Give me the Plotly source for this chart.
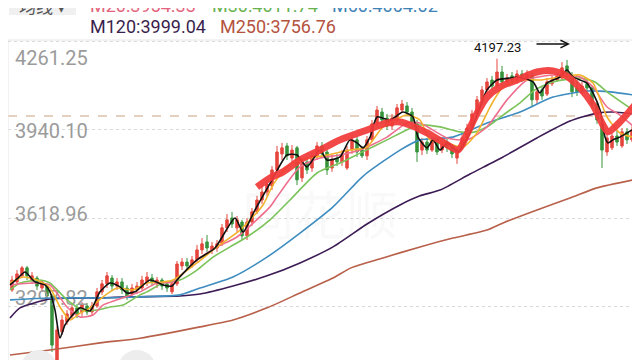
import plotly.graph_objects as go

# ---------------- data ----------------
bar_index = list(range(125))
open_ = [3359, 3388, 3410, 3439, 3395, 3402, 3366, 3373, 3337, 3098,
         3207, 3243, 3265, 3294, 3279, 3301, 3279, 3301, 3352, 3381,
         3402, 3373, 3388, 3366, 3344, 3359, 3366, 3388, 3402, 3381,
         3395, 3381, 3352, 3381, 3446, 3460, 3446, 3468, 3504, 3533,
         3504, 3511, 3526, 3584, 3620, 3584, 3605, 3555, 3605, 3642,
         3685, 3714, 3736, 3794, 3852, 3881, 3837, 3874, 3765, 3823,
         3801, 3845, 3881, 3859, 3801, 3837, 3823, 3801, 3866, 3903,
         3866, 3845, 3903, 3961, 4004, 3982, 3953, 3975, 4011, 4026,
         4004, 3961, 3866, 3895, 3866, 3903, 3866, 3895, 3874, 3837,
         3874, 3910, 3946, 3997, 4048, 4084, 4120, 4098, 4149, 4113,
         4135, 4120, 4142, 4127, 4135, 4048, 4084, 4069, 4106, 4120,
         4127, 4171, 4135, 4091, 4077, 4106, 4091, 4033, 3961, 3859,
         3874, 3917, 3881, 3932, 3903]
close = [3395, 3417, 3439, 3410, 3410, 3373, 3388, 3337, 3159, 3214,
         3250, 3272, 3294, 3272, 3304, 3279, 3301, 3352, 3381, 3410,
         3373, 3388, 3359, 3337, 3366, 3373, 3395, 3406, 3388, 3395,
         3373, 3366, 3381, 3453, 3460, 3446, 3468, 3504, 3526, 3511,
         3518, 3526, 3584, 3613, 3598, 3613, 3555, 3605, 3642, 3685,
         3714, 3743, 3794, 3859, 3874, 3845, 3866, 3758, 3816, 3794,
         3845, 3881, 3852, 3794, 3830, 3823, 3852, 3866, 3903, 3859,
         3845, 3903, 3961, 4011, 3975, 3953, 3982, 4019, 4033, 4004,
         3968, 3859, 3895, 3866, 3903, 3859, 3888, 3874, 3852, 3866,
         3910, 3946, 3997, 4048, 4084, 4113, 4098, 4149, 4113, 4127,
         4120, 4142, 4127, 4142, 4048, 4077, 4062, 4113, 4120, 4135,
         4164, 4142, 4077, 4077, 4098, 4091, 4033, 3975, 3866, 3910,
         3917, 3895, 3932, 3903, 3939]
high = [3410, 3431, 3446, 3446, 3424, 3410, 3395, 3381, 3344, 3228,
        3268, 3286, 3304, 3308, 3315, 3312, 3315, 3366, 3395, 3424,
        3413, 3402, 3402, 3377, 3381, 3388, 3410, 3424, 3417, 3406,
        3402, 3391, 3395, 3464, 3475, 3475, 3482, 3522, 3547, 3558,
        3533, 3540, 3598, 3634, 3642, 3627, 3613, 3620, 3656, 3700,
        3736, 3758, 3808, 3881, 3892, 3892, 3884, 3881, 3830, 3837,
        3859, 3895, 3895, 3866, 3848, 3852, 3866, 3881, 3924, 3917,
        3881, 3917, 3975, 4026, 4019, 3997, 3997, 4033, 4048, 4040,
        4019, 3975, 3910, 3910, 3917, 3913, 3903, 3910, 3888, 3881,
        3924, 3961, 4011, 4062, 4098, 4127, 4135, 4197.23, 4171, 4142,
        4149, 4156, 4156, 4156, 4149, 4091, 4098, 4127, 4135, 4149,
        4185, 4193, 4149, 4120, 4113, 4120, 4098, 4040, 3975, 3924,
        3932, 3939, 3946, 3946, 3953]
low = [3352, 3381, 3402, 3395, 3381, 3359, 3352, 3323, 3134, 3062,
       3196, 3232, 3250, 3257, 3265, 3268, 3268, 3294, 3341, 3366,
       3359, 3359, 3344, 3323, 3330, 3344, 3359, 3373, 3373, 3366,
       3359, 3352, 3344, 3373, 3431, 3431, 3439, 3460, 3489, 3497,
       3489, 3497, 3518, 3569, 3584, 3569, 3540, 3540, 3591, 3634,
       3671, 3700, 3721, 3787, 3830, 3830, 3823, 3739, 3750, 3779,
       3787, 3830, 3837, 3776, 3787, 3808, 3808, 3794, 3852, 3841,
       3837, 3830, 3895, 3946, 3961, 3939, 3939, 3968, 4004, 3990,
       3953, 3823, 3848, 3852, 3859, 3848, 3855, 3859, 3837, 3816,
       3866, 3903, 3939, 3990, 4033, 4069, 4084, 4091, 4098, 4098,
       4106, 4106, 4113, 4120, 4022, 4033, 4048, 4062, 4098, 4113,
       4120, 4127, 4058, 4062, 4069, 4077, 4019, 3961, 3801, 3845,
       3866, 3881, 3874, 3888, 3895]

ma5_x = [-0.4, 1.2, 2.6, 4.6, 6.6, 7.6, 8.6, 9.6, 10.6, 11.6, 13.6, 15.6, 17.6, 19.6, 21.6,
         23, 24.6, 27.6, 30.2, 32, 33, 37, 40.6, 44.6, 46.2, 48.6, 52, 55, 57, 59,
         61.6, 63, 65.6, 67.6, 69, 70.2, 71.6, 73, 75.6, 78.2, 80.2, 81.2, 83, 84.2, 85.6,
         87, 88.2, 89.2, 91.6, 93.6, 95, 97, 99.6, 101, 104.2, 105.6, 107, 109.6, 111, 112.2,
         115, 116.2, 117.6, 118.6, 119.2, 120.2, 121.6, 124]
ma5_y = [3377, 3402, 3424, 3388, 3377, 3352, 3286, 3185, 3232, 3257, 3294, 3283, 3352, 3384, 3370,
         3348, 3352, 3395, 3377, 3373, 3395, 3468, 3511, 3620, 3569, 3649, 3758, 3848, 3848, 3805,
         3866, 3830, 3841, 3903, 3892, 3874, 3913, 3986, 3975, 4004, 3986, 3913, 3874, 3903, 3866,
         3892, 3877, 3859, 3928, 4022, 4084, 4120, 4127, 4131, 4113, 4073, 4109, 4131, 4156, 4131,
         4109, 4073, 4011, 3913, 3892, 3903, 3913, 3939]

ma10_x = [-0.4, 2.2, 5, 7.6, 9.6, 11.6, 13.6, 15.6, 18.2, 21, 24.2, 27, 30.2, 32.2, 37,
          41, 45.6, 50.2, 52.2, 55, 57.6, 63, 67.6, 71, 74.2, 79, 81.6, 83.6, 87, 90.2,
          93, 95.6, 98.2, 101.6, 105.6, 109.6, 113.6, 116.2, 119, 121.6, 124.2]
ma10_y = [3384, 3406, 3395, 3366, 3297, 3250, 3275, 3294, 3334, 3366, 3359, 3384, 3388, 3395, 3457,
          3515, 3576, 3667, 3740, 3805, 3830, 3848, 3866, 3877, 3950, 3993, 3975, 3903, 3892, 3877,
          3928, 4022, 4095, 4120, 4120, 4131, 4138, 4109, 3986, 3928, 3913]

ma20_x = [-0.4, 4.2, 7.6, 11, 13.6, 16.2, 18.2, 21, 25.6, 29, 32.2, 37, 41, 45, 51.6, 53, 57.6,
          61.6, 65.6, 69.6, 75, 79, 81.6, 87, 91, 95, 99, 103, 108.2, 113.6, 116.2, 119, 121.6, 124.2]
ma20_y = [3377, 3384, 3377, 3297, 3261, 3268, 3304, 3323, 3352, 3384, 3388, 3468, 3515, 3551, 3660, 3696, 3805,
          3837, 3848, 3866, 3913, 3964, 3964, 3910, 3903, 3950, 4048, 4120, 4138, 4131, 4095, 4022, 3993, 3953]

ma30_x = [-0.4, 1.6, 5.6, 7.6, 11, 14.2, 17, 19.6, 22.2, 25.6, 27, 30.2, 33.6, 37, 40.2, 43.6, 47, 51.6,
          55.6, 61, 65.6, 69.6, 75, 80.2, 81.6, 85.6, 89.6, 92.6, 95.6, 98.2, 101.6, 104.6, 108.2,
          113.6, 116.6, 119, 124.2]
ma30_y = [3359, 3384, 3395, 3384, 3323, 3286, 3286, 3297, 3304, 3341, 3352, 3384, 3395, 3431, 3478, 3515, 3551, 3613,
          3685, 3783, 3819, 3855, 3903, 3950, 3957, 3950, 3932, 3932, 3957, 3993, 4037, 4084, 4113,
          4127, 4113, 4077, 4011]

ma60_x = [-0.4, 7.6, 17.6, 25.6, 33.6, 37.6, 44.2, 51, 57.6, 64.2, 69, 71, 77.6, 81.6, 88.2, 95,
          101.6, 108.2, 115, 119.6, 124.2]
ma60_y = [3323, 3330, 3330, 3334, 3341, 3366, 3406, 3478, 3565, 3660, 3750, 3783, 3866, 3903, 3913, 3964,
          4004, 4058, 4080, 4077, 4066]

ma120_x = [-0.4, 1.6, 7.6, 17.6, 23.6, 33.6, 37.6, 44.2, 51, 57.6, 64.2, 71, 77.6, 81.6, 85.6, 91.6,
           98.2, 105, 111.6, 117, 120.2, 124.2]
ma120_y = [3257, 3294, 3326, 3330, 3334, 3337, 3344, 3373, 3410, 3457, 3515, 3598, 3667, 3700, 3721, 3779,
           3841, 3910, 3971, 4000, 4004, 3997]

ma250_x = [-0.4, 7.6, 17.6, 25.6, 37.6, 44.2, 51, 57.6, 64.2, 67.8, 74.2, 81.6, 88.2, 95, 98.2, 105,
           111.6, 117, 124.2]
ma250_y = [3123, 3141, 3167, 3184, 3225, 3250, 3294, 3348, 3402, 3439, 3475, 3515, 3547, 3576, 3602, 3649,
           3692, 3729, 3758]

# hand-drawn red stroke
stroke_x = [49, 51.6, 54.2, 57.6, 61.6, 65.6, 71, 75, 77.6, 79.6, 83, 86.2, 89.2, 91, 93, 95, 97.6,
            101, 105, 108.2, 111, 113.6, 116.2, 118.2, 119.2, 121.6, 124.6]
stroke_y = [3732, 3765, 3787, 3830, 3866, 3903, 3939, 3964, 3968, 3957, 3928, 3895, 3866, 3924, 3999, 4058, 4095,
            4120, 4149, 4153, 4134, 4091, 4030, 3957, 3932, 3968, 4030]

tick_vals = [4261.25, 3940.10, 3618.96, 3297.82]
tick_text = ["4261.25", "3940.10", "3618.96", "3297.82"]
ref_line = 3989.5
peak_value = 4197.23
peak_index = 97

legend_row1 = [("M20:3954.33", "#e4637e"), ("M30:4011.74", "#67b24e"), ("M60:4064.02", "#3f82b5")]
legend_row2 = [("M120:3999.04", "#3a1f4d"), ("M250:3756.76", "#b4533e")]

# ---------------- layout constants ----------------
# the page places the figure 8px from the window's top-left corner
OFF = 8
W, H = 640, 360
ML, MR, MT, MB = 0, 12, 32, 8
Y_MIN, Y_MAX = 3105.0, 4265.0
X_MIN, X_MAX = -0.8, 124.8
PW, PH = W - ML - MR, H - MT - MB
unit_per_px_y = (Y_MAX - Y_MIN) / PH
unit_per_px_x = (X_MAX - X_MIN) / PW


def px_x(p):  # window pixel -> paper x
    return (p - OFF - ML) / PW


def px_y(p):  # window pixel -> paper y
    return (H - MB - (p - OFF)) / PH


FONT = "Roboto, 'Open Sans', sans-serif"
fig = go.Figure()

# watermark (faint, below everything)
fig.add_trace(go.Scatter(x=[X_MIN + (320 - OFF - ML) * unit_per_px_x],
                         y=[Y_MAX - (222 - OFF - MT) * unit_per_px_y],
                         mode="text", text=["同花顺"], textposition="middle center",
                         textfont=dict(size=52, color="rgba(0,0,0,0.022)", family="Noto Sans CJK SC"),
                         hoverinfo="skip", showlegend=False))

# y tick labels drawn as text below the lines
label_shift_px = [18.5, 3, -2, -6.5]
fig.add_trace(go.Scatter(
    x=[X_MIN + 7 * unit_per_px_x] * 4,
    y=[v - s * unit_per_px_y for v, s in zip(tick_vals, label_shift_px)],
    mode="text", text=tick_text, textposition="middle right",
    textfont=dict(size=20, color="#9b9b9b", family=FONT),
    hoverinfo="skip", showlegend=False))

fig.add_trace(go.Candlestick(
    x=bar_index, open=open_, high=high, low=low, close=close,
    increasing=dict(line=dict(color="#e5463c", width=1), fillcolor="#e5463c"),
    decreasing=dict(line=dict(color="#37943c", width=1), fillcolor="#37943c"),
    whiskerwidth=0, showlegend=False, hoverinfo="skip"))

ma_specs = [
    (ma250_x, ma250_y, "#b8604a"),
    (ma120_x, ma120_y, "#3d1c55"),
    (ma60_x, ma60_y, "#3e8cc0"),
    (ma30_x, ma30_y, "#7cc35a"),
    (ma20_x, ma20_y, "#ee6f8d"),
    (ma10_x, ma10_y, "#f2b22c"),
    (ma5_x, ma5_y, "#111111"),
]
for mx, my, col in ma_specs:
    fig.add_trace(go.Scatter(x=mx, y=my, mode="lines",
                             line=dict(color=col, width=1.6, shape="spline", smoothing=0.6),
                             hoverinfo="skip", showlegend=False))

fig.add_trace(go.Scatter(x=stroke_x, y=stroke_y, mode="lines",
                         line=dict(color="rgba(242,58,58,0.93)", width=7, shape="spline", smoothing=0.8),
                         hoverinfo="skip", showlegend=False))

shapes = [
    # reference dashed line
    dict(type="line", xref="paper", yref="y", x0=0, x1=1, y0=ref_line, y1=ref_line,
         line=dict(color="#c9a27e", width=1, dash="dash"), layer="below"),
    # frame
    dict(type="line", xref="paper", yref="paper", x0=0, x1=0, y0=0, y1=1, line=dict(color="#e6e6e6", width=1)),
    dict(type="line", xref="paper", yref="paper", x0=1, x1=1, y0=0, y1=1, line=dict(color="#e6e6e6", width=1)),
    dict(type="line", xref="paper", yref="paper", x0=0, x1=1, y0=1, y1=1, line=dict(color="#e6e6e6", width=1)),
    # "均线" button
    dict(type="rect", xref="paper", yref="paper", x0=px_x(9), x1=px_x(76), y0=px_y(15), y1=px_y(-12),
         fillcolor="#f0f0f0", line=dict(width=0), layer="below"),
    # faint bottom buttons
    dict(type="circle", xref="paper", yref="paper", x0=px_x(21), x1=px_x(57), y0=px_y(386), y1=px_y(350),
         fillcolor="#ededed", line=dict(width=0)),
    dict(type="circle", xref="paper", yref="paper", x0=px_x(118), x1=px_x(156), y0=px_y(388), y1=px_y(350),
         fillcolor="#ededed", line=dict(width=0)),
]

annotations = [
    dict(xref="paper", yref="paper", x=px_x(42), y=px_y(5), text="均线 ▾", showarrow=False,
         xanchor="center", yanchor="middle", font=dict(size=17, color="#555555", family="Noto Sans CJK SC")),
]
xs1 = [88, 210, 330]
for (t, c), x0 in zip(legend_row1, xs1):
    annotations.append(dict(xref="paper", yref="paper", x=px_x(x0), y=px_y(5), text=t, showarrow=False,
                            xanchor="left", yanchor="middle", font=dict(size=18, color=c, family=FONT)))
xs2 = [88, 218]
for (t, c), x0 in zip(legend_row2, xs2):
    annotations.append(dict(xref="paper", yref="paper", x=px_x(x0), y=px_y(26), text=t, showarrow=False,
                            xanchor="left", yanchor="middle", font=dict(size=18, color=c, family=FONT)))
annotations.append(dict(x=peak_index, y=peak_value, xref="x", yref="y", text=f"{peak_value:.2f}",
                        showarrow=False, xanchor="center", yanchor="middle", yshift=11,
                        font=dict(size=13, color="#111111", family=FONT)))
annotations.append(dict(xref="paper", yref="paper", x=px_x(570), y=px_y(44), ax=-35, ay=0, text="",
                        showarrow=True, arrowhead=5, arrowsize=1.1, arrowwidth=1.4, arrowcolor="#111111"))

fig.update_layout(
    width=W, height=H, margin=dict(l=ML, r=MR, t=MT, b=MB),
    paper_bgcolor="white", plot_bgcolor="white", showlegend=False,
    shapes=shapes, annotations=annotations,
    xaxis=dict(range=[X_MIN, X_MAX], visible=False, rangeslider=dict(visible=False), fixedrange=True),
    yaxis=dict(range=[Y_MIN, Y_MAX], tickvals=tick_vals, showticklabels=False, ticks="",
               showgrid=True, gridcolor="#d9d9d9", griddash="dot", gridwidth=1, zeroline=False,
               showline=False, fixedrange=True),
)

fig.write_html("out.html")
